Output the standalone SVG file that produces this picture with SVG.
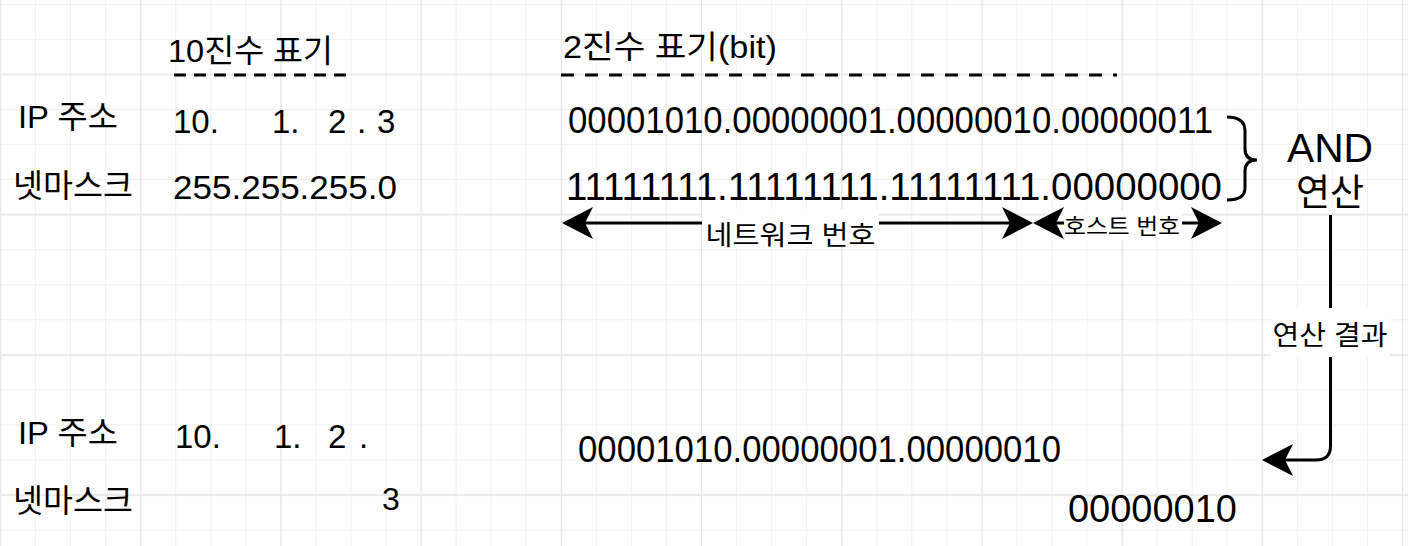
<svg xmlns="http://www.w3.org/2000/svg" xmlns:xlink="http://www.w3.org/1999/xlink" width="1408" height="546" viewBox="0 0 1408 546">
<style>
text{font-family:"Liberation Sans","Noto Sans CJK KR",sans-serif;fill:#000}
.ln{stroke:#000;stroke-width:3;fill:none}
.dash{stroke:#000;stroke-width:3;fill:none}
.bg{fill:#fff}
</style>
<defs>
<pattern id="minor" patternUnits="userSpaceOnUse" x="0" y="3.9" width="35.05" height="35.05">
<path d="M0.5,0V35.05M0,0.5H35.05" stroke="#f1f1f1" stroke-width="1" fill="none"/>
</pattern>
<pattern id="major" patternUnits="userSpaceOnUse" x="0" y="3.9" width="140.2" height="140.2">
<path d="M0.5,0V140.2M0,70.6H140.2" stroke="#e6e6e6" stroke-width="1.5" fill="none"/>
</pattern>
<path id="ah" d="M0,0 L-31,-16 L-23,0 L-31,16 Z" fill="#000"/>
</defs>
<rect width="1408" height="546" fill="#fff"/>
<rect width="1408" height="546" fill="url(#minor)"/>
<rect width="1408" height="546" fill="url(#major)"/>

<g id="connectors">
<line class="ln" x1="585" y1="223" x2="1010" y2="223"/>
<use xlink:href="#ah" transform="translate(562,223) rotate(180)"/>
<use xlink:href="#ah" transform="translate(1033,223)"/>
<line class="ln" x1="1056" y1="223" x2="1200" y2="223"/>
<use xlink:href="#ah" transform="translate(1033,223) rotate(180)"/>
<use xlink:href="#ah" transform="translate(1222,223)"/>
<path class="ln" d="M1330.5,215 V446 Q1330.5,460 1316,460 H1285"/>
<use xlink:href="#ah" transform="translate(1262,460) rotate(180)"/>
<rect class="bg" x="702" y="209" width="177" height="38"/>
<text x="790.5" y="245" font-size="27" text-anchor="middle" textLength="170" lengthAdjust="spacingAndGlyphs">네트워크 번호</text>
<rect class="bg" x="1064" y="210" width="118" height="30"/>
<text x="1122" y="234" font-size="22" text-anchor="middle" textLength="116" lengthAdjust="spacingAndGlyphs">호스트 번호</text>
<rect class="bg" x="1271" y="308" width="119" height="49"/>
<text x="1330" y="345" font-size="27" text-anchor="middle" textLength="115" lengthAdjust="spacingAndGlyphs">연산 결과</text>
</g>

<g id="header-decimal">
<text x="168" y="62" font-size="32" textLength="165" lengthAdjust="spacingAndGlyphs">10진수 표기</text>
<line class="dash" x1="174" y1="75" x2="350" y2="75" stroke-dasharray="12 8"/>
</g>
<g id="header-binary">
<text x="563" y="58" font-size="32" textLength="214" lengthAdjust="spacingAndGlyphs">2진수 표기(bit)</text>
<line class="dash" x1="561" y1="75" x2="1117" y2="75" stroke-dasharray="13 11"/>
</g>

<g id="label-ip-top"><text x="18" y="128" font-size="32" textLength="100" lengthAdjust="spacingAndGlyphs">IP 주소</text></g>
<g id="label-mask-top"><text x="13" y="197" font-size="32" textLength="120" lengthAdjust="spacingAndGlyphs">넷마스크</text></g>
<g id="ip-decimal-top"><text y="133" font-size="33"><tspan x="173">10.</tspan><tspan x="272">1.</tspan><tspan x="328">2</tspan><tspan x="357">.</tspan><tspan x="377">3</tspan></text></g>
<g id="mask-decimal-top"><text x="173" y="199" font-size="34" textLength="224" lengthAdjust="spacingAndGlyphs">255.255.255.0</text></g>
<g id="ip-binary-top"><text x="568" y="133" font-size="37" textLength="645" lengthAdjust="spacingAndGlyphs">00001010.00000001.00000010.00000011</text></g>
<g id="mask-binary-top"><text x="566" y="200" font-size="38" textLength="656" lengthAdjust="spacingAndGlyphs">11111111.11111111.11111111.00000000</text></g>

<g id="brace"><path class="ln" d="M1227,117 Q1245,117 1245,131 V149 Q1245,160 1257,160 Q1245,160 1245,171 V188 Q1245,200 1227,200"/></g>
<g id="and-op">
<text x="1330" y="162" font-size="40" text-anchor="middle" textLength="86" lengthAdjust="spacingAndGlyphs">AND</text>
<text x="1330" y="206" font-size="37" text-anchor="middle">연산</text>
</g>

<g id="label-ip-bottom"><text x="18" y="444" font-size="32" textLength="100" lengthAdjust="spacingAndGlyphs">IP 주소</text></g>
<g id="label-mask-bottom"><text x="13" y="512" font-size="32" textLength="120" lengthAdjust="spacingAndGlyphs">넷마스크</text></g>
<g id="ip-decimal-bottom"><text y="448" font-size="33"><tspan x="175">10.</tspan><tspan x="274">1.</tspan><tspan x="328">2</tspan><tspan x="359">.</tspan></text></g>
<g id="mask-decimal-bottom"><text x="382" y="510" font-size="32">3</text></g>
<g id="ip-binary-bottom"><text x="578" y="462" font-size="37" textLength="483" lengthAdjust="spacingAndGlyphs">00001010.00000001.00000010</text></g>
<g id="mask-binary-bottom"><text x="1068" y="522" font-size="39" textLength="169" lengthAdjust="spacingAndGlyphs">00000010</text></g>
</svg>
